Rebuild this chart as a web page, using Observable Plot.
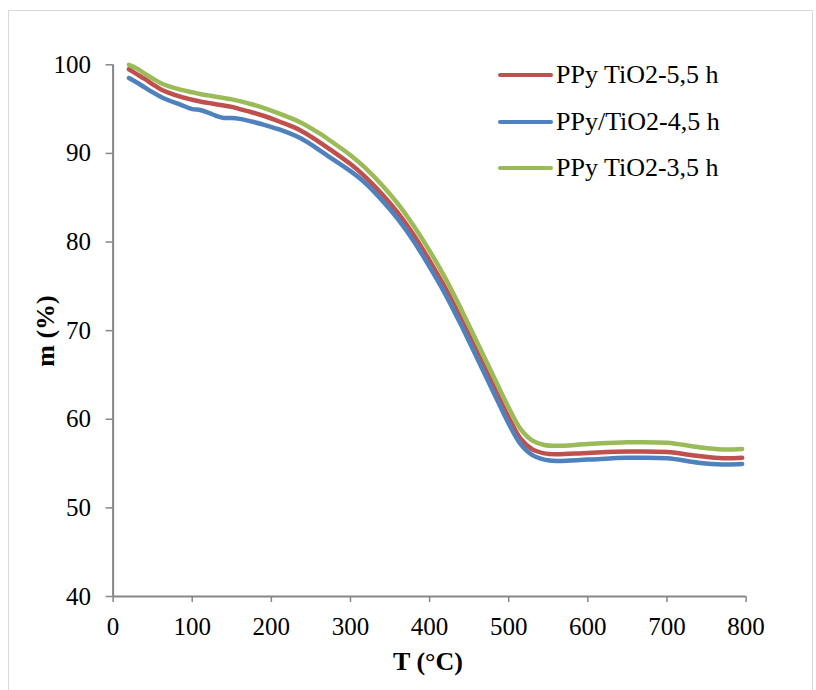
<!DOCTYPE html>
<html>
<head>
<meta charset="utf-8">
<script src="https://cdn.jsdelivr.net/npm/d3@7"></script>
<script src="https://cdn.jsdelivr.net/npm/@observablehq/plot@0.6"></script>
<style>
  body { margin: 0; background: #fff; }
  #wrap { position: relative; width: 816px; height: 690px; font-family: "Liberation Serif", "Times New Roman", serif; overflow: hidden; }
  #border { position: absolute; left: 8px; top: 10px; width: 803px; height: 700px; border: 1px solid #d9d9d9; }
  #chart { position: absolute; left: 0; top: 0; }
  .leg { position: absolute; height: 26px; line-height: 26px; font-size: 26px; white-space: nowrap; color: #000; }
  .sw { position: absolute; height: 4px; border-radius: 2px; }
  .title { position: absolute; font-size: 26px; line-height: 26px; font-weight: bold; white-space: nowrap; color: #000; }
</style>
</head>
<body>
<div id="wrap">
  <div id="border"></div>
  <div id="chart"></div>
</div>
<script>
// Temperatures (°C) at which the curves were read
const temps = [20,30,40,50,60,70,85,100,110,120,130,140,150,160,175,190,210,237,262,275,300,317,340,360,380,400,420,440,460,480,500,515,530,545,560,600,650,700,740,770,795];
// Mass (%) for each sample
const ppy55 = [99.5,98.95,98.4,97.8,97.25,96.85,96.4,96.05,95.85,95.7,95.55,95.4,95.25,95.0,94.65,94.25,93.6,92.6,91.2,90.4,88.8,87.5,85.4,83.3,80.8,77.9,74.8,71.3,67.6,63.9,60.2,57.8,56.6,56.15,56.05,56.2,56.35,56.3,55.85,55.6,55.65];
const ppy45 = [98.5,98.0,97.45,96.9,96.4,96.0,95.5,95.0,94.9,94.6,94.25,94.0,94.0,93.9,93.6,93.25,92.7,91.7,90.3,89.5,88.0,86.8,84.7,82.6,80.1,77.2,74.1,70.6,66.9,63.2,59.5,57.2,55.95,55.45,55.3,55.45,55.65,55.6,55.1,54.9,54.95];
const ppy35 = [100.0,99.6,99.0,98.45,97.95,97.6,97.2,96.9,96.7,96.55,96.4,96.25,96.1,95.9,95.55,95.15,94.5,93.5,92.2,91.4,89.8,88.5,86.4,84.3,81.8,79.0,75.9,72.4,68.7,65.0,61.3,58.9,57.6,57.1,57.0,57.2,57.4,57.35,56.85,56.6,56.65];

const seriesNames = ["PPy TiO2-5,5 h", "PPy/TiO2-4,5 h", "PPy TiO2-3,5 h"];
const seriesColors = ["#c0504d", "#4f81bd", "#9bbb59"];
const seriesValues = [ppy55, ppy45, ppy35];

const xTicks = [0,100,200,300,400,500,600,700,800];
const yTicks = [40,50,60,70,80,90,100];
const xTitle = "T (°C)";
const yTitle = "m (%)";

const rows = [];
seriesValues.forEach((vals, s) => vals.forEach((v, i) => rows.push({T: temps[i], m: v, s: seriesNames[s]})));

const axisGray = "#868686";
const W = 816, H = 690;

const marks = [
  Plot.ruleX([0], {y1: 40, y2: 100, stroke: axisGray, strokeWidth: 2}),
  Plot.ruleY([40], {x1: 0, x2: 800, stroke: axisGray, strokeWidth: 2}),
  Plot.axisX({ticks: xTicks, tickSize: 6, tickPadding: 15, stroke: axisGray, strokeWidth: 1.5, fill: "#000", fontSize: 25, tickFormat: d => String(d), label: null}),
  Plot.axisY({ticks: yTicks, tickSize: 7, tickPadding: 15, stroke: axisGray, strokeWidth: 1.5, fill: "#000", fontSize: 25, tickFormat: d => String(d), label: null})
];
seriesNames.forEach((name, s) => {
  marks.push(Plot.line(rows.filter(r => r.s === name), {x: "T", y: "m", stroke: seriesColors[s], strokeWidth: 4.5, curve: "catmull-rom", strokeLinecap: "round"}));
});

const chart = Plot.plot({
  width: W, height: H,
  marginLeft: 112.6, marginRight: 70.4, marginTop: 64.3, marginBottom: 94,
  x: {domain: [0, 800]},
  y: {domain: [40, 100]},
  style: {fontFamily: '"Liberation Serif", "Times New Roman", serif', fontSize: "25px", color: "#000", background: "transparent", overflow: "visible"},
  marks
});
document.getElementById("chart").appendChild(chart);

// Legend (HTML overlay)
const wrap = document.getElementById("wrap");
const legY = [75, 121.7, 168.3];
seriesNames.forEach((name, s) => {
  const sw = document.createElement("div");
  sw.className = "sw";
  sw.style.left = "498px"; sw.style.width = "55px";
  sw.style.top = (legY[s] - 2) + "px";
  sw.style.background = seriesColors[s];
  wrap.appendChild(sw);
  const t = document.createElement("div");
  t.className = "leg";
  t.style.left = "556px";
  t.style.top = (legY[s] - 13.2) + "px";
  t.textContent = name;
  wrap.appendChild(t);
});

// Axis titles
const xt = document.createElement("div");
xt.className = "title";
xt.textContent = xTitle;
xt.style.left = "428px"; xt.style.top = "662px";
xt.style.transform = "translate(-50%,-50%)";
wrap.appendChild(xt);
const yt = document.createElement("div");
yt.className = "title";
yt.textContent = yTitle;
yt.style.left = "46px"; yt.style.top = "331px";
yt.style.transform = "translate(-50%,-50%) rotate(-90deg)";
wrap.appendChild(yt);
</script>
</body>
</html>
